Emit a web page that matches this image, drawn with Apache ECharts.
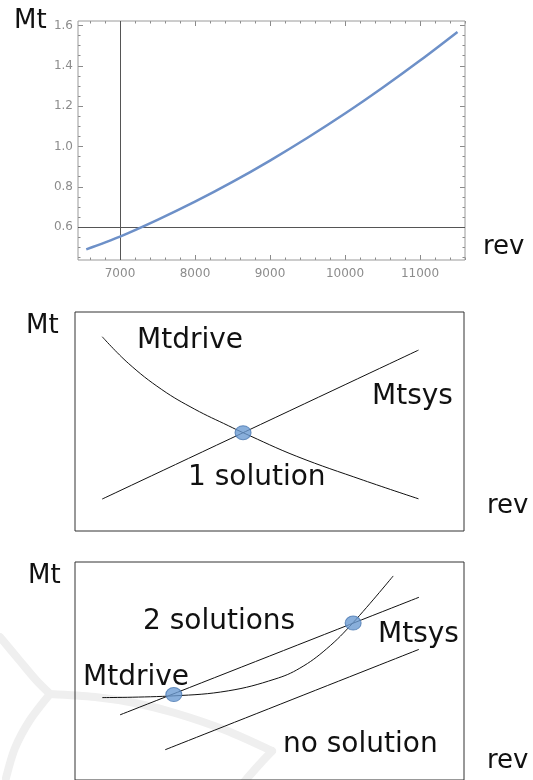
<!DOCTYPE html>
<html>
<head>
<meta charset="utf-8">
<script src="https://cdn.jsdelivr.net/npm/echarts@6/dist/echarts.min.js"></script>
<style>
  html, body { margin: 0; padding: 0; background: #fff; }
  #chart { width: 533px; height: 780px; }
</style>
</head>
<body>
<div id="chart"></div>
<script>
// top panel: measured torque curve
const revValues = [6550, 7000, 7500, 8000, 8500, 9000, 9500, 10000, 10500, 11000, 11500];
const mtValues = [0.49, 0.553, 0.636, 0.726, 0.824, 0.930, 1.043, 1.163, 1.291, 1.426, 1.568];
const refRev = 7000;
const refMt = 0.6;
const revTicks = [7000, 8000, 9000, 10000, 11000];
const mtTicks = [0.6, 0.8, 1.0, 1.2, 1.4, 1.6];

// middle panel: one solution (schematic units 0..100)
const oneSysX = [7.0, 88.3];
const oneSysY = [14.6, 82.6];
const oneDriveX = [7.0, 13.7, 22.3, 30.8, 39.4, 43.2, 57.0, 74.1, 88.3];
const oneDriveY = [88.7, 76.6, 64.6, 55.6, 48.1, 44.9, 34.1, 23.2, 14.7];
const onePoints = [[43.2, 44.9]];

// bottom panel: two solutions / no solution
const twoSysX = [11.6, 88.4];
const twoSysY = [29.9, 83.8];
const lowSysX = [23.2, 88.4];
const lowSysY = [13.9, 59.9];
const twoDriveX = [7.0, 25.4, 39.4, 51.4, 57.8, 64.7, 71.5, 81.8];
const twoDriveY = [37.8, 38.6, 40.9, 46.3, 51.3, 60.2, 72.2, 93.6];
const twoPoints = [[25.4, 39.2], [71.5, 72.0]];

// faint watermark behind the bottom panel (page pixels)
const wmArcA = [[0, 637], [20, 661], [36, 680], [50, 694]];
const wmBand = [[50, 694], [95, 697], [135, 703], [175, 713], [225, 730], [272, 751]];
const wmTail = [[272, 751], [258, 766], [244, 782]];
const wmArcB = [[50, 694], [30, 720], [15, 748], [6, 778]];

function pairs(xs, ys) {
  return xs.map((x, i) => [x, ys[i]]);
}

function steps(from, to, step) {
  const out = [];
  for (let v = from; v <= to + 1e-9; v += step) out.push(Math.round(v * 1000) / 1000);
  return out;
}

const revMinor = steps(6600, 11600, 200);
const mtMinor = steps(0.45, 1.6, 0.05);

const tickGray = "#8a8a8a";
const font = "DejaVu Sans";

function frameAxis(type, pos, values, len, labels) {
  const isX = type === "x";
  return {
    type: "value",
    gridIndex: 0,
    position: pos,
    min: isX ? 6440 : 0.437,
    max: isX ? 11600 : 1.622,
    axisLine: { show: false },
    splitLine: { show: false },
    axisTick: {
      show: true,
      inside: true,
      length: len,
      customValues: values,
      lineStyle: { color: tickGray, width: 1 },
    },
    axisLabel: {
      show: labels,
      customValues: values,
      color: "#8c8c8c",
      fontFamily: font,
      fontSize: 12,
      margin: isX ? 8 : 5,
      formatter: (v) => (isX ? String(v) : Number(v).toFixed(1)),
    },
  };
}

function hiddenAxis(grid, min, max, inverse) {
  return { type: "value", gridIndex: grid, min, max, inverse: !!inverse, show: false };
}

function thinLine(name, data, x, y) {
  return {
    name,
    type: "line",
    xAxisIndex: x,
    yAxisIndex: y,
    data,
    smooth: 0.4,
    showSymbol: false,
    silent: true,
    lineStyle: { color: "#111", width: 1 },
    z: 3,
  };
}

function dots(data, x, y) {
  return {
    type: "scatter",
    xAxisIndex: x,
    yAxisIndex: y,
    data,
    symbol: "circle",
    symbolSize: [16, 14],
    itemStyle: { color: "#6b9bd2", borderColor: "#4a78b2", borderWidth: 1 },
    silent: true,
    z: 5,
  };
}

function watermark(data) {
  return {
    type: "line",
    xAxisIndex: 6,
    yAxisIndex: 6,
    data,
    smooth: 0.3,
    showSymbol: false,
    silent: true,
    lineStyle: { color: "#efefef", width: 8, cap: "round", join: "round" },
    z: 0,
  };
}

function label(text, x, y, size) {
  return {
    type: "text",
    silent: true,
    z: 10,
    style: {
      text,
      x,
      y,
      fill: "#111",
      font: `${size}px "${font}"`,
      verticalAlign: "middle",
      align: "left",
    },
  };
}

const chart = echarts.init(document.getElementById("chart"), null, { renderer: "canvas" });

chart.setOption({
  animation: false,
  backgroundColor: "#fff",
  grid: [
    { left: 78, top: 21, width: 387, height: 239, show: true, borderColor: "#9a9a9a", borderWidth: 1, z: 2 },
    { left: 75, top: 312, width: 389, height: 219, show: true, borderColor: "#333", borderWidth: 1, z: 2 },
    { left: 75, top: 562, width: 389, height: 230, show: true, borderColor: "#333", borderWidth: 1, z: 2 },
    { left: 0, top: 0, width: 533, height: 780, show: false },
  ],
  xAxis: [
    frameAxis("x", "bottom", revTicks, 5, true),
    frameAxis("x", "bottom", revMinor, 2.5, false),
    frameAxis("x", "top", revTicks, 5, false),
    frameAxis("x", "top", revMinor, 2.5, false),
    hiddenAxis(1, 0, 100),
    hiddenAxis(2, 0, 100),
    hiddenAxis(3, 0, 533),
  ],
  yAxis: [
    frameAxis("y", "left", mtTicks, 5, true),
    frameAxis("y", "left", mtMinor, 2.5, false),
    frameAxis("y", "right", mtTicks, 5, false),
    frameAxis("y", "right", mtMinor, 2.5, false),
    hiddenAxis(1, 0, 100),
    hiddenAxis(2, 0, 100),
    hiddenAxis(3, 0, 780, true),
  ],
  series: [
    watermark(wmArcA),
    watermark(wmBand),
    watermark(wmTail),
    watermark(wmArcB),
    {
      name: "Mt",
      type: "line",
      xAxisIndex: 0,
      yAxisIndex: 0,
      data: pairs(revValues, mtValues),
      smooth: 0.3,
      showSymbol: false,
      silent: true,
      lineStyle: { color: "#6d90c8", width: 2.5 },
      z: 4,
      markLine: {
        silent: true,
        symbol: "none",
        label: { show: false },
        lineStyle: { color: "#555", width: 1, type: "solid" },
        data: [{ xAxis: refRev }, { yAxis: refMt }],
        z: 3,
      },
    },
    thinLine("Mtsys", pairs(oneSysX, oneSysY), 4, 4),
    thinLine("Mtdrive", pairs(oneDriveX, oneDriveY), 4, 4),
    dots(onePoints, 4, 4),
    thinLine("Mtsys", pairs(twoSysX, twoSysY), 5, 5),
    thinLine("Mtsys low", pairs(lowSysX, lowSysY), 5, 5),
    thinLine("Mtdrive", pairs(twoDriveX, twoDriveY), 5, 5),
    dots(twoPoints, 5, 5),
  ],
  graphic: [
    label("Mt", 14, 21, 26),
    label("rev", 483, 247, 26),
    label("Mt", 26, 326, 26),
    label("rev", 487, 506, 26),
    label("Mtdrive", 137, 341, 28),
    label("Mtsys", 372, 397, 28),
    label("1 solution", 188, 478, 28),
    label("Mt", 28, 576, 26),
    label("rev", 487, 761, 26),
    label("2 solutions", 143, 622, 28),
    label("Mtsys", 378, 635, 28),
    label("Mtdrive", 83, 678, 28),
    label("no solution", 283, 745, 28),
  ],
});
</script>
</body>
</html>
